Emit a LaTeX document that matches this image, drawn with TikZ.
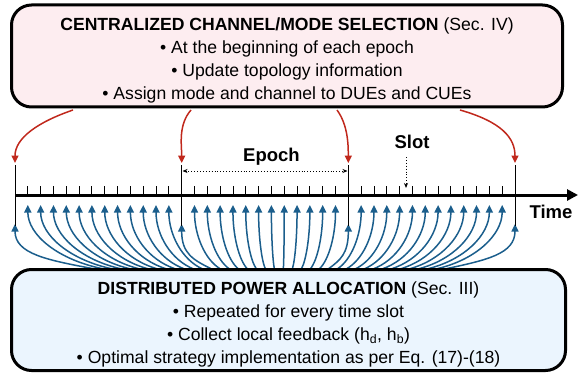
\documentclass[tikz,border=0pt]{standalone}
\usepackage{fontspec}
\setmainfont{Liberation Sans}
\usetikzlibrary{arrows.meta}
\definecolor{redarr}{HTML}{C0281C}
\definecolor{bluearr}{HTML}{1B5E8C}
\definecolor{pinkfill}{HTML}{FDEDF0}
\definecolor{bluefill}{HTML}{EBF5FE}
\begin{document}
\begin{tikzpicture}[x=1pt,y=-1pt,
  panel/.style={draw=black, line width=3pt, rounded corners=20pt, inner sep=0pt},
  paneltext/.style={align=center, font=\fontsize{17.6}{23}\selectfont, inner sep=0pt},
  bluearrow/.style={draw=bluearr, line width=1.5pt, -{Triangle[length=7.5pt,width=7pt]}},
  redarrow/.style={draw=redarr, line width=1.5pt, -{Triangle[length=7.5pt,width=7pt]}},
  smalltick/.style={draw=black, line width=0.9pt},
  majortick/.style={draw=black, line width=0.9pt},
  axisline/.style={draw=black, line width=3pt, -{Triangle[length=11pt,width=11pt]}},
  dotarrow/.style={draw=black, line width=0.9pt, dotted, -{Stealth[length=5pt,width=4pt]}},
  lbl/.style={font=\fontsize{18.5}{20}\selectfont\bfseries, inner sep=0pt}
]
\useasboundingbox (0,0) rectangle (578,377);

% blue feedback arrows
\foreach \j in {0,...,39} {
  \pgfmathsetmacro{\tx}{15+\j*12.8205}
  \pgfmathsetmacro{\ty}{mod(\j,13)==0 ? 224 : 205}
  \pgfmathsetmacro{\ox}{84.4+0.7*\tx}
  \pgfmathsetmacro{\ca}{\ox+0.6*(\tx-\ox)}
  \pgfmathsetmacro{\cb}{\ty+30}
  \coordinate (bo\j) at (\ox,269);
  \coordinate (bt\j) at (\tx,\ty);
  \draw[bluearrow] (bo\j) .. controls (\ca,260) and (\tx,\cb) .. (bt\j);
}

% small ticks
\foreach \j in {1,...,38} {
  \pgfmathsetmacro{\tx}{15+\j*12.8205}
  \coordinate (st\j) at (\tx,186);
  \coordinate (sb\j) at (\tx,195);
  \draw[smalltick] (st\j) -- (sb\j);
}
% major ticks
\foreach \j in {0,13,26,39} {
  \pgfmathsetmacro{\tx}{15+\j*12.8205}
  \coordinate (mt\j) at (\tx,165);
  \coordinate (mb\j) at (\tx,226);
  \draw[majortick] (mt\j) -- (mb\j);
}

% axis
\coordinate (ax0) at (15,195);
\coordinate (ax1) at (578,195);
\draw[axisline] (ax0) -- (ax1);
\node[lbl] (time) at (551,212) {Time};

% epoch
\coordinate (ep0) at (182.5,171);
\coordinate (ep1) at (347.5,171);
\draw[dotarrow, {Stealth[length=5pt,width=4pt]}-{Stealth[length=5pt,width=4pt]}] (ep0) -- (ep1);
\node[lbl] (epoch) at (271.5,157) {Epoch};

% slot
\node[lbl] (slot) at (412,142) {Slot};
\coordinate (sl0) at (406,157);
\coordinate (sl1) at (406,188);
\draw[dotarrow] (sl0) -- (sl1);

% panels
\node[panel, fill=pinkfill, minimum width=551pt, minimum height=102pt] (top) at (287,56) {};
\node[paneltext] (toptext) at (287,60)
 {{\bfseries CENTRALIZED CHANNEL/MODE SELECTION} (Sec. IV)\\
  • At the beginning of each epoch\\
  • Update topology information\\
  • Assign mode and channel to DUEs and CUEs};
\node[panel, fill=bluefill, minimum width=554pt, minimum height=101pt] (bot) at (288.5,320) {};
\node[paneltext] (bottext) at (288.5,324)
 {{\bfseries DISTRIBUTED POWER ALLOCATION} (Sec. III)\\
  • Repeated for every time slot\\
  • Collect local feedback (h\textsubscript{d}, h\textsubscript{b})\\
  • Optimal strategy implementation as per Eq. (17)-(18)};

% red arrows
\coordinate (ro1) at (73,110);
\coordinate (ro2) at (191,110);
\coordinate (ro3) at (337,110);
\coordinate (ro4) at (460,110);
\coordinate (rt1) at (15,163);
\coordinate (rt2) at (181.7,163);
\coordinate (rt3) at (348.3,163);
\coordinate (rt4) at (515,163);
\draw[redarrow] (ro1) .. controls (38,122) and (15,138) .. (rt1);
\draw[redarrow] (ro2) .. controls (178,125) and (181.7,145) .. (rt2);
\draw[redarrow] (ro3) .. controls (348,125) and (348.3,145) .. (rt3);
\draw[redarrow] (ro4) .. controls (502,122) and (515,138) .. (rt4);
\end{tikzpicture}
\end{document}
